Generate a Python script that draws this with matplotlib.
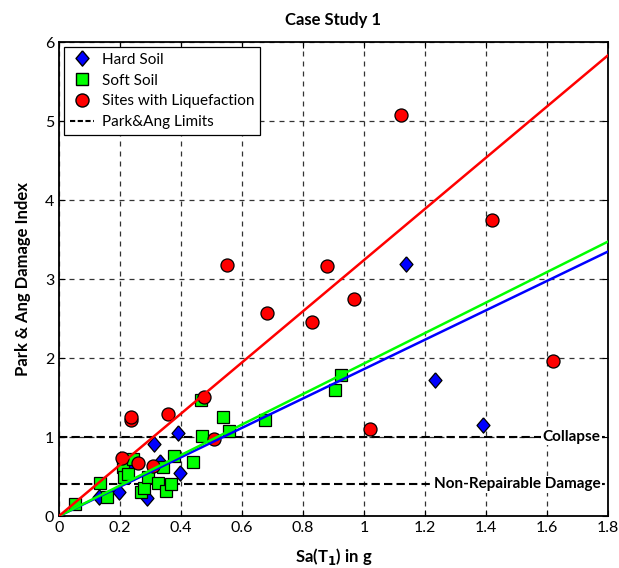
import numpy as np
import matplotlib
matplotlib.use("Agg")
import matplotlib.pyplot as plt
from matplotlib.lines import Line2D

plt.rcParams['font.family'] = ['Lato', 'DejaVu Sans']

# data
hard_x = [0.13, 0.197, 0.287, 0.225, 0.31, 0.33, 0.391, 0.397, 1.138, 1.233, 1.39]
hard_y = [0.24, 0.30, 0.23, 0.62, 0.91, 0.69, 1.05, 0.55, 3.19, 1.72, 1.15]

soft_x = [0.051, 0.134, 0.156, 0.211, 0.213, 0.225, 0.244, 0.27, 0.28, 0.293, 0.326,
          0.342, 0.35, 0.366, 0.377, 0.44, 0.465, 0.47, 0.539, 0.556, 0.675, 0.906, 0.923]
soft_y = [0.15, 0.42, 0.24, 0.62, 0.50, 0.53, 0.72, 0.30, 0.35, 0.50, 0.42,
          0.62, 0.32, 0.41, 0.76, 0.69, 1.47, 1.01, 1.25, 1.07, 1.21, 1.59, 1.78]

liq_x = [0.208, 0.236, 0.236, 0.258, 0.309, 0.358, 0.476, 0.509, 0.55, 0.682, 0.83,
         0.88, 0.967, 1.02, 1.12, 1.42, 1.62]
liq_y = [0.73, 1.21, 1.25, 0.67, 0.63, 1.29, 1.51, 0.97, 3.18, 2.57, 2.46,
         3.17, 2.75, 1.10, 5.08, 3.75, 1.96]

# slopes of the fitted lines through the origin
slope_hard = 1.86
slope_soft = 1.93
slope_liq = 3.24

limits = [1.0, 0.4]
limit_names = ["Collapse", "Non-Repairable Damage"]

xticks = [0, 0.2, 0.4, 0.6, 0.8, 1, 1.2, 1.4, 1.6, 1.8]
xticklabels = ["0", "0.2", "0.4", "0.6", "0.8", "1", "1.2", "1.4", "1.6", "1.8"]
yticks = [0, 1, 2, 3, 4, 5, 6]

# diamond like matlab (a bit taller than wide)
diamond = [(0, 1), (0.85, 0), (0, -1), (-0.85, 0), (0, 1)]

fig = plt.figure(figsize=(6.19, 5.68), dpi=100)
ax = fig.add_axes([0.0953, 0.0915, 0.8869, 0.8345])

ax.set_xlim(0, 1.8)
ax.set_ylim(0, 6)
ax.set_xticks(xticks)
ax.set_xticklabels(xticklabels)
ax.set_yticks(yticks)
ax.tick_params(direction='in', top=True, right=True, labelsize=11.5, length=4, width=0.8)
ax.grid(True, color='0.2', linestyle=(0, (4, 4)), linewidth=0.9)
ax.set_axisbelow(True)
for s in ax.spines.values():
    s.set_linewidth(1.3)

for lim, name in zip(limits, limit_names):
    ax.axhline(lim, color='black', linestyle=(0, (4, 2)), linewidth=1.5, zorder=1)
    ax.text(1.775, lim, name, ha='right', va='center', fontsize=11, fontweight='bold',
            bbox=dict(facecolor='white', edgecolor='none', pad=1), zorder=2)

ax.plot(hard_x, hard_y, linestyle='none', marker=diamond, markersize=11,
        markerfacecolor='#0000ff', markeredgecolor='black', markeredgewidth=0.9, zorder=3)
ax.plot(soft_x, soft_y, linestyle='none', marker='s', markersize=8.2,
        markerfacecolor='#00ff00', markeredgecolor='black', markeredgewidth=0.9, zorder=3)
ax.plot(liq_x, liq_y, linestyle='none', marker='o', markersize=9.4,
        markerfacecolor='#ff0000', markeredgecolor='black', markeredgewidth=0.9, zorder=3)

xl = np.array([0, 1.8])
ax.plot(xl, slope_hard * xl, color='#0000ff', linewidth=1.8, zorder=4)
ax.plot(xl, slope_soft * xl, color='#00ff00', linewidth=1.8, zorder=4)
ax.plot(xl, slope_liq * xl, color='#ff0000', linewidth=1.8, zorder=4)

handles = [
    Line2D([], [], linestyle='none', marker=diamond, markersize=11,
           markerfacecolor='#0000ff', markeredgecolor='black'),
    Line2D([], [], linestyle='none', marker='s', markersize=8.2,
           markerfacecolor='#00ff00', markeredgecolor='black'),
    Line2D([], [], linestyle='none', marker='o', markersize=9.4,
           markerfacecolor='#ff0000', markeredgecolor='black'),
    Line2D([], [], color='black', linestyle=(0, (2.5, 1.2)), linewidth=1.5),
]
labels = ["Hard Soil", "Soft Soil", "Sites with Liquefaction", "Park&Ang Limits"]
leg = ax.legend(handles, labels, loc='upper left', fontsize=11, fancybox=False,
                framealpha=1, edgecolor='black', borderaxespad=0.3,
                handlelength=1.6, handletextpad=0.5, labelspacing=0.45, borderpad=0.4)
leg.get_frame().set_linewidth(0.9)
leg.set_zorder(10)

ax.set_title("Case Study 1", fontsize=12, fontweight='bold', pad=12)
ax.set_xlabel("Sa(T$_\\mathbf{1}$) in g", fontsize=12, fontweight='bold', labelpad=8)
ax.set_ylabel("Park & Ang Damage Index", fontsize=12, fontweight='bold', labelpad=10)

fig.savefig("out.png", dpi=100)
